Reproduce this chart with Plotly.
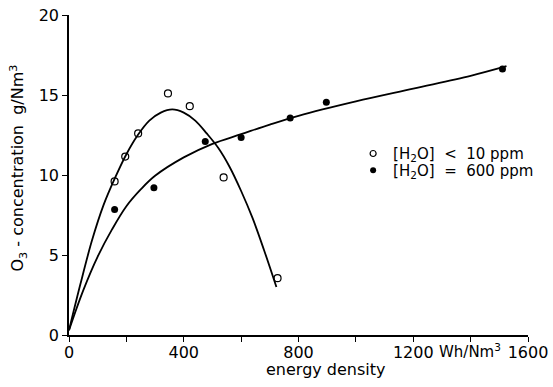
import plotly.graph_objects as go

# open circles: [H2O] < 10 ppm
dry_x = [159, 196, 241, 345, 421, 539, 727]
dry_y = [9.6, 11.15, 12.6, 15.1, 14.3, 9.85, 3.55]
# filled circles: [H2O] = 600 ppm
wet_x = [159, 296, 475, 600, 771, 897, 1511]
wet_y = [7.85, 9.2, 12.1, 12.35, 13.56, 14.55, 16.63]

# fitted curves
dry_fit_x = [0, 40, 80, 120, 160, 200, 240, 280, 320, 360, 400, 440, 480, 520, 560, 600, 640, 680, 723]
dry_fit_y = [0.3, 3.2, 5.9, 8.1, 9.8, 11.3, 12.5, 13.4, 13.9, 14.1, 13.9, 13.4, 12.6, 11.7, 10.5, 9.0, 7.3, 5.3, 3.0]
wet_fit_x = [0, 50, 100, 150, 200, 250, 300, 400, 500, 600, 700, 800, 1000, 1200, 1400, 1525]
wet_fit_y = [0.3, 2.8, 4.9, 6.6, 8.05, 9.1, 9.95, 11.1, 11.95, 12.55, 13.15, 13.7, 14.6, 15.4, 16.2, 16.8]

x_tickvals = [0, 200, 400, 600, 800, 1000, 1200, 1400, 1600]
x_ticktext = ["0", "", "400", "", "800", "", "1200", "", "1600"]
y_tickvals = [0, 5, 10, 15, 20]

legend_labels = ["[H<sub>2</sub>O]\u00a0\u00a0<\u00a0\u00a010\u00a0ppm",
                 "[H<sub>2</sub>O]\u00a0\u00a0=\u00a0\u00a0600\u00a0ppm"]

FONT = "DejaVu Sans"
FS = 16
fig = go.Figure()
fig.add_trace(go.Scatter(x=dry_fit_x, y=dry_fit_y, mode="lines", line=dict(color="black", width=1.8, shape="spline", smoothing=1.0), showlegend=False, hoverinfo="skip"))
fig.add_trace(go.Scatter(x=wet_fit_x, y=wet_fit_y, mode="lines", line=dict(color="black", width=1.8, shape="spline", smoothing=1.0), showlegend=False, hoverinfo="skip"))
fig.add_trace(go.Scatter(x=dry_x, y=dry_y, mode="markers", marker=dict(symbol="circle-open", size=7, color="black", line=dict(width=1.2)), showlegend=False))
fig.add_trace(go.Scatter(x=wet_x, y=wet_y, mode="markers", marker=dict(symbol="circle", size=7, color="black"), showlegend=False))
# legend-only entries, each in its own legend box for exact row spacing
fig.add_trace(go.Scatter(x=[None], y=[None], mode="markers", name=legend_labels[0], legend="legend",
                         marker=dict(symbol="circle-open", size=6, color="black", line=dict(width=1.2))))
fig.add_trace(go.Scatter(x=[None], y=[None], mode="markers", name=legend_labels[1], legend="legend2",
                         marker=dict(symbol="circle", size=6, color="black")))

leg_common = dict(xanchor="left", yanchor="top", bgcolor="rgba(0,0,0,0)",
                  font=dict(family=FONT, size=15), itemwidth=30)
fig.update_layout(
    width=553, height=387,
    margin=dict(l=69, r=25, t=15, b=52, autoexpand=False),
    paper_bgcolor="white", plot_bgcolor="white",
    font=dict(family=FONT, size=FS, color="black"),
    legend=dict(x=0.619, y=0.618, **leg_common),
    legend2=dict(x=0.619, y=0.566, **leg_common),
    xaxis=dict(range=[0, 1600], tickvals=x_tickvals, ticktext=x_ticktext, ticks="outside", ticklen=5,
               tickwidth=1.3, tickcolor="black", showline=True, linecolor="black", linewidth=1.5,
               showgrid=False, zeroline=False, tickfont=dict(size=FS), ticklabelstandoff=-3),
    yaxis=dict(range=[0, 20], tickvals=y_tickvals, ticks="outside", ticklen=5, tickwidth=1.3,
               tickcolor="black", showline=True, linecolor="black", linewidth=1.5,
               showgrid=False, zeroline=False, tickfont=dict(size=FS)),
    annotations=[
        dict(text="Wh/Nm<sup>3</sup>", x=1282, y=0, xref="x", yref="paper", xanchor="left", yanchor="top",
             yshift=-4, showarrow=False, font=dict(size=15)),
        dict(text="energy density", x=0.56, y=-0.109, xref="paper", yref="paper", xanchor="center",
             yanchor="middle", showarrow=False, font=dict(size=FS)),
        dict(text="O<sub>3</sub> - concentration\u00a0\u00a0g/Nm<sup>3</sup>", x=-0.11, y=0.522,
             xref="paper", yref="paper", xanchor="center", yanchor="middle", textangle=-90,
             showarrow=False, font=dict(size=FS)),
    ],
)
fig.write_html("out.html")
